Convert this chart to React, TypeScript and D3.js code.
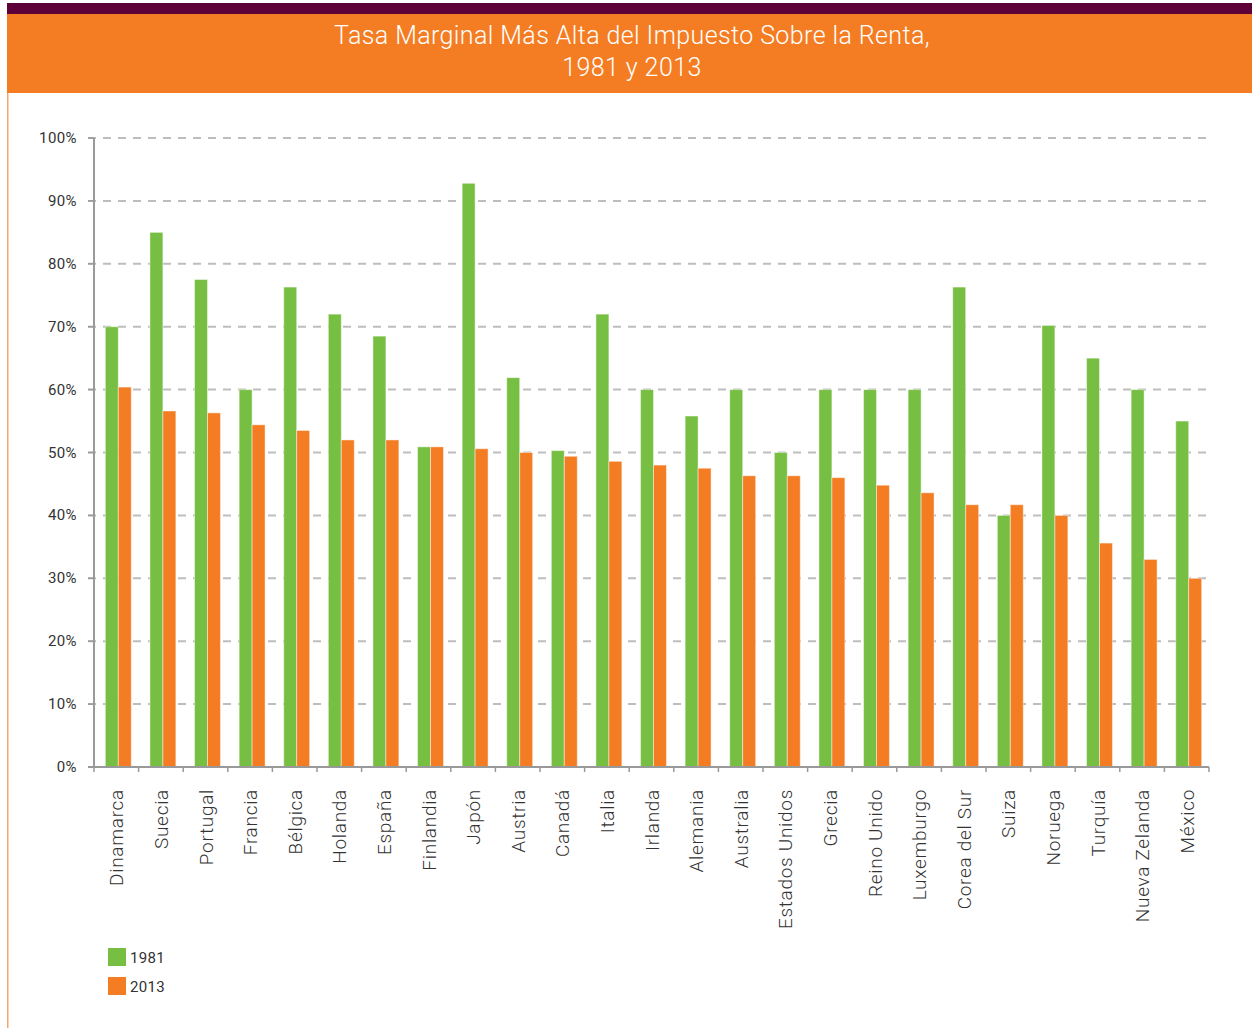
import React from "react";
import * as d3 from "d3";

const countries = ["Dinamarca","Suecia","Portugal","Francia","Bélgica","Holanda","España","Finlandia","Japón","Austria","Canadá","Italia","Irlanda","Alemania","Australia","Estados Unidos","Grecia","Reino Unido","Luxemburgo","Corea del Sur","Suiza","Noruega","Turquía","Nueva Zelanda","México"];
const values1981 = [70,85,77.5,60,76.3,72,68.5,50.9,92.8,61.9,50.3,72,60,55.8,60,50,60,60,60,76.3,40,70.2,65,60,55];
const values2013 = [60.4,56.6,56.3,54.4,53.5,52,52,50.9,50.6,50,49.4,48.6,48,47.5,46.3,46.3,46,44.8,43.6,41.7,41.7,40,35.6,33,30];
const yTicks = [0,10,20,30,40,50,60,70,80,90,100];
const seriesNames = ["1981","2013"];
const colors = ["#77bf43","#f47d23"];

export default function App() {
  const W = 1252, H = 1028;
  const left = 94, right = 1209, top = 138, bottom = 767;
  const x = d3.scaleBand<string>().domain(countries).range([left, right]).paddingInner(0).paddingOuter(0);
  const y = d3.scaleLinear().domain([0, 100]).range([bottom, top]);
  const inner = d3.scaleBand<string>().domain(seriesNames).range([2, x.bandwidth() + 2]).paddingInner(0).paddingOuter(0.72);
  const font = "Roboto, sans-serif";
  const data = [values1981, values2013];
  return (
    <svg width={W} height={H} style={{ position: "absolute", left: 0, top: 0 }} fontFamily={font}>
      <rect x={0} y={0} width={W} height={H} fill="#fff" />
      <rect x={7} y={3} width={W - 7} height={11} fill="#5e0038" />
      <rect x={7} y={14} width={W - 7} height={79} fill="#f47d23" />
      <rect x={7} y={93} width={1.5} height={H - 93} fill="#f6a56c" />
      <text x={632} y={44} textAnchor="middle" fill="#fff" fontSize={25} fontWeight={300} letterSpacing={0.4}>Tasa Marginal Más Alta del Impuesto Sobre la Renta,</text>
      <text x={632} y={76} textAnchor="middle" fill="#fff" fontSize={25} fontWeight={300} letterSpacing={0.4}>1981 y 2013</text>
      {yTicks.map(t => (
        <g key={t}>
          {t > 0 && <line x1={88} x2={right} y1={y(t)} y2={y(t)} stroke="#bdbdbd" strokeWidth={2} strokeDasharray="8,7" />}
          <line x1={88} x2={left} y1={y(t)} y2={y(t)} stroke="#999" strokeWidth={1.5} />
          <text x={77} y={y(t) + 5} textAnchor="end" fontSize={15} letterSpacing={0.4} fill="#333">{t}%</text>
        </g>
      ))}
      {countries.map((c, i) => (
        <g key={c}>
          {data.map((vals, s) => (
            <rect key={s} x={(x(c) as number) + (inner(seriesNames[s]) as number)} y={y(vals[i])}
              width={inner.bandwidth()} height={bottom - y(vals[i])} fill={colors[s]} stroke="rgba(255,255,255,0.45)" strokeWidth={1} />
          ))}
        </g>
      ))}
      <line x1={left} x2={left} y1={top} y2={bottom} stroke="#999" strokeWidth={2} />
      <line x1={88} x2={right} y1={bottom} y2={bottom} stroke="#999" strokeWidth={2} />
      {countries.concat(["end"]).map((c, i) => {
        const xx = left + i * x.step();
        return <line key={i} x1={xx} x2={xx} y1={bottom} y2={bottom + 5} stroke="#999" strokeWidth={1.5} />;
      })}
      {countries.map(c => {
        const cx = (x(c) as number) + x.bandwidth() / 2;
        return (
          <text key={c} transform={`translate(${cx + 7},${bottom + 22}) rotate(-90)`} textAnchor="end" fontSize={19} letterSpacing={0.7} fill="#333" fontWeight={300}>{c}</text>
        );
      })}
      {seriesNames.map((s, i) => (
        <g key={s}>
          <rect x={108} y={948 + i * 29} width={18} height={18} fill={colors[i]} />
          <text x={130} y={963 + i * 29} fontSize={15} letterSpacing={0.3} fill="#333">{s}</text>
        </g>
      ))}
    </svg>
  );
}
